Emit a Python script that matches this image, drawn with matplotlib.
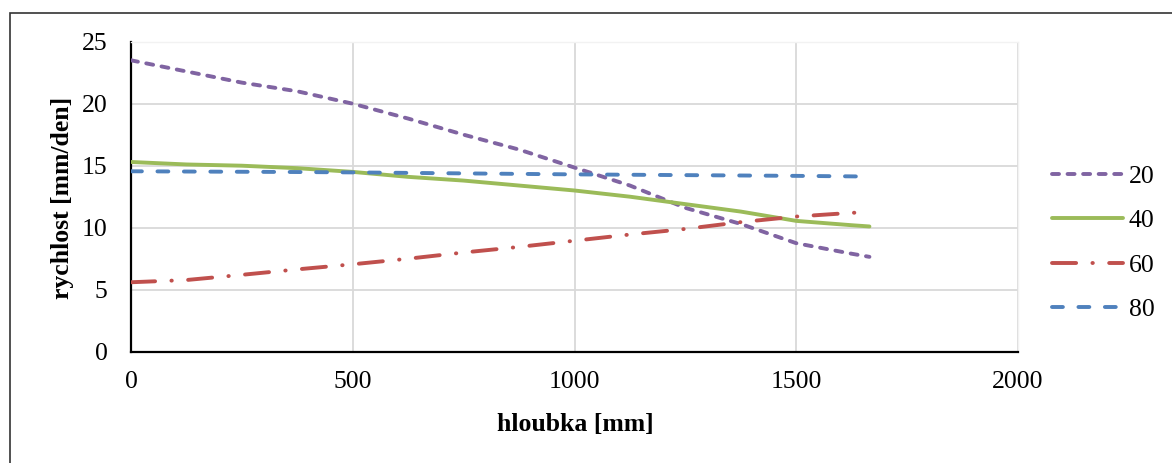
import matplotlib
matplotlib.use("Agg")
import matplotlib.pyplot as plt
from matplotlib.patches import Rectangle

# ---- data ----
depth = [0, 125, 250, 375, 500, 625, 750, 875, 1000, 1125, 1250, 1375, 1500, 1625, 1665]
s20 = [23.5, 22.6, 21.7, 21.0, 20.0, 18.8, 17.5, 16.3, 14.85, 13.4, 11.6, 10.3, 8.75, 7.9, 7.65]
s40 = [15.3, 15.1, 15.0, 14.8, 14.5, 14.1, 13.8, 13.4, 13.0, 12.5, 11.9, 11.3, 10.55, 10.2, 10.1]
s60 = [5.6, 5.78, 6.2, 6.64, 7.05, 7.5, 8.0, 8.45, 8.95, 9.45, 9.9, 10.45, 10.9, 11.2, 11.25]
s80 = [14.55, 14.53, 14.51, 14.49, 14.46, 14.42, 14.38, 14.34, 14.3, 14.27, 14.24, 14.21, 14.18, 14.14, 14.12]
labels = ["20", "40", "60", "80"]
xticks = [0, 500, 1000, 1500, 2000]
yticks = [0, 5, 10, 15, 20, 25]

plt.rcParams['font.family'] = ['Liberation Serif', 'DejaVu Serif']

W, H = 1172, 463
fig = plt.figure(figsize=(W / 100, H / 100), dpi=100)
ax = fig.add_axes([131 / W, 1 - 351.7 / H, 887 / W, 310 / H])

lw = 2.8
ax.plot(depth, s20, color='#8064A2', lw=lw, ls=(0, (1.8, 2.2)),
        dash_capstyle='round', label=labels[0], zorder=3)
ax.plot(depth, s40, color='#9BBB59', lw=lw, ls='-',
        solid_capstyle='round', label=labels[1], zorder=3)
ax.plot(depth, s60, color='#C0504D', lw=lw, ls=(0, (6.2, 4.2, 0.1, 4.2)),
        dash_capstyle='round', label=labels[2], zorder=3)
ax.plot(depth, s80, color='#4F81BD', lw=lw, ls=(0, (2.8, 4.0)),
        dash_capstyle='round', label=labels[3], zorder=3)

ax.set_xlim(0, 2000)
ax.set_ylim(0, 25)
ax.set_xticks(xticks)
ax.set_yticks(yticks)
ax.grid(True, color='#D9D9D9', lw=1.3)
ax.set_axisbelow(True)
ax.tick_params(axis='both', length=0, labelsize=18.5)
ax.tick_params(axis='y', pad=17)
ax.tick_params(axis='x', pad=14)
for s in ['top', 'right']:
    ax.spines[s].set_color('#F2F2F2')
    ax.spines[s].set_linewidth(1.0)
for s in ['left', 'bottom']:
    ax.spines[s].set_color('black')
    ax.spines[s].set_linewidth(1.6)

ax.set_xlabel('hloubka [mm]', fontsize=18.5, fontweight='bold')
ax.set_ylabel('rychlost [mm/den]', fontsize=18.5, fontweight='bold')
ax.xaxis.set_label_coords((575 - 131) / 887, (351.7 - 425) / 310)
ax.xaxis.label.set_va('center')
ax.yaxis.set_label_coords((62 - 131) / 887, (351.7 - 197.5) / 310)
ax.yaxis.label.set_va('center')
ax.yaxis.label.set_ha('center')

fig.legend(loc='center left', bbox_to_anchor=(1052 / W, 1 - 243 / H),
           frameon=False, fontsize=18.5, handlelength=2.75, handletextpad=0.24,
           labelspacing=0.83, borderpad=0, borderaxespad=0)

fig.patches.append(Rectangle((10 / W, -0.1), 1.2, 1 - 13 / H + 0.1,
                             transform=fig.transFigure, fill=False,
                             edgecolor='#333333', lw=1.2))

fig.savefig('out.png', dpi=100, facecolor='white')
